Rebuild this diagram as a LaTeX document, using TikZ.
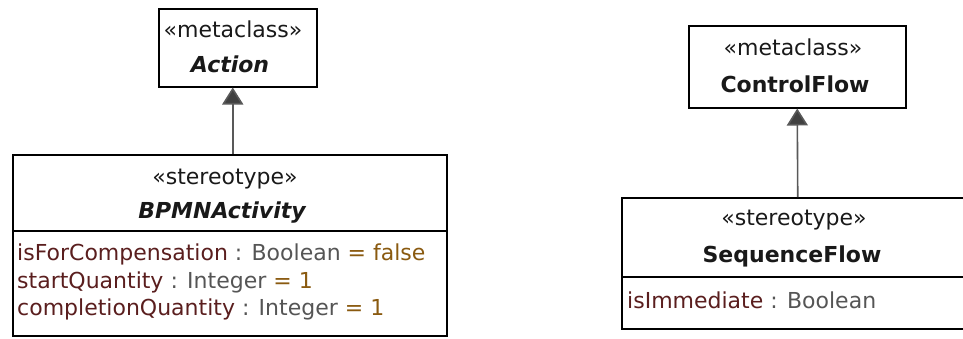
\documentclass[tikz,border=0pt]{standalone}
\usepackage{fontspec}
\setmainfont{DejaVu Sans}
\usetikzlibrary{arrows.meta}
\definecolor{attrname}{HTML}{5A1E1E}
\definecolor{attrtype}{HTML}{555555}
\definecolor{attrval}{HTML}{8A5A10}
\begin{document}
\begin{tikzpicture}[x=1pt,y=-1pt]

      \tikzset{classbox/.style={draw, line width=1.5pt, inner sep=0pt, anchor=north west},
               title/.style={anchor=base, inner sep=0pt, text=black!90, font=\fontsize{22}{26}\selectfont},
               attr/.style={anchor=base west, inner sep=0pt, font=\fontsize{22}{26}\selectfont},
               gen/.style={draw=black!65, line width=1.6pt, -{Triangle[width=21pt,length=17pt,fill=black!75]}}}
      \useasboundingbox (0,0) rectangle (963,338);
% Boxes
      	\node[classbox, minimum width=158pt, minimum height=78pt] (action) at (158,8) {};
      	\node[classbox, minimum width=434pt, minimum height=181pt] (bpmn) at (12,154) {};
      	\node[classbox, minimum width=217pt, minimum height=82pt] (ctrlflow) at (688,25) {};
      	\node[classbox, minimum width=352pt, minimum height=131pt] (seqflow) at (621,197) {};
% Titles
      	\node[title] (actionst) at (233,37) {«metaclass»};
      	\node[title] (actionname) at (230,72) {\bfseries\itshape Action};
      	\node[title] (bpmnst) at (225,184) {«stereotype»};
      	\node[title] (bpmnname) at (222,218) {\bfseries\itshape BPMNActivity};
      	\node[title] (ctrlst) at (793,55) {«metaclass»};
      	\node[title] (ctrlname) at (795,92) {\bfseries ControlFlow};
      	\node[title] (seqst) at (794,225) {«stereotype»};
      	\node[title] (seqname) at (792,262) {\bfseries SequenceFlow};
% Compartments
		\draw[line width=1.5pt] (bpmn.west |- 0,231) -- (bpmn.east |- 0,231);
		\draw[line width=1.5pt] (seqflow.west |- 0,277) -- (seqflow.east |- 0,277);
      	\node[attr] (bpmnattr1) at (17,260) {\textcolor{attrname}{isForCompensation} \textcolor{attrtype}{: Boolean} \textcolor{attrval}{= false}};
      	\node[attr] (bpmnattr2) at (17,288) {\textcolor{attrname}{startQuantity} \textcolor{attrtype}{: Integer} \textcolor{attrval}{= 1}};
      	\node[attr] (bpmnattr3) at (17,315) {\textcolor{attrname}{completionQuantity} \textcolor{attrtype}{: Integer} \textcolor{attrval}{= 1}};
      	\node[attr] (seqattr1) at (627,308) {\textcolor{attrname}{isImmediate} \textcolor{attrtype}{: Boolean}};
%Generalizations
		\draw[gen] ([xshift=3pt]bpmn.north) -- ([xshift=3pt]bpmn.north |- action.south);
		\draw[gen] (seqflow.north) -- (ctrlflow.south);

\end{tikzpicture}
\end{document}
